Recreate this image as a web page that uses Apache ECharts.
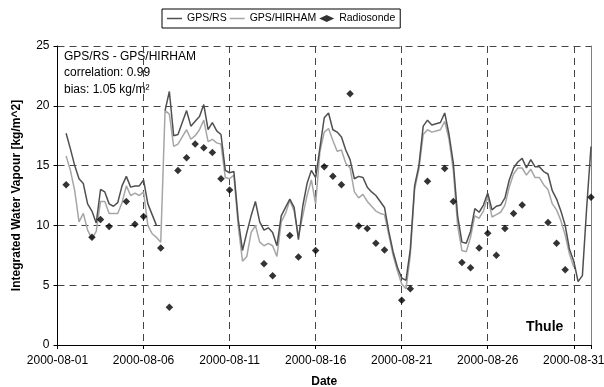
<!DOCTYPE html>
<html><head><meta charset="utf-8">
<script src="https://cdn.jsdelivr.net/npm/echarts@6/dist/echarts.min.js"></script>
<style>html,body{margin:0;padding:0;background:#fff}#c{width:604px;height:387px}</style>
</head><body><div id="c"></div>
<script>
// time grid of the GPS series: days after 2000-08-01 00:00
const startDay = 0.5, stepDay = 0.25;
const gpsRS = [
  17.7,16.4, 15.0,13.9,13.5,11.8, 11.2,10.2,13.0,12.8, 11.8,11.6,11.9,13.3,
  14.1,13.2,13.3,13.3, 13.8,11.8,10.9,10.0, null,19.6,21.2,17.5, 17.6,18.6,19.6,18.3,
  18.7,19.1,20.1,18.0, 18.6,17.9,17.6,14.6, 14.4,14.5,10.5,7.9, 9.4,10.8,12.0,10.3,
  9.6,9.8,9.4,8.3, 10.8,11.5,12.2,11.5, 8.8,11.6,13.5,14.6, 14.0,16.5,19.0,19.4,
  18.0,17.8,17.4,16.3, 15.5,13.9,14.1,14.0, 13.2,12.8,12.5,12.0, 11.5,9.5,7.8,6.5,
  5.6,5.4,8.0,13.3, 15.0,18.3,18.8,18.4, 18.5,18.6,19.4,17.6, 15.2,10.8,8.6,8.5,
  9.5,11.4,11.1,11.7, 12.7,11.3,11.6,11.7, 12.3,13.8,14.8,15.3, 15.6,14.8,15.5,14.9,
  14.9,14.5,14.3,12.9, 12.2,11.2,10.0,8.0, 7.0,5.3,5.8,11.5, 16.6
];
const gpsHIRHAM = [
  15.8,14.6, 12.9,10.3,11.0,9.6, 8.9,9.5,12.0,12.0, 11.0,11.0,11.0,11.9,
  13.3,12.5,12.7,12.5, 12.8,10.0,9.3,9.0, 8.6,19.6,19.3,16.6, 16.8,17.4,18.0,17.2,
  17.5,18.0,18.8,17.0, 17.2,16.9,16.8,14.0, 13.9,14.2,10.0,7.0, 7.4,9.4,10.0,8.6,
  8.3,8.5,8.3,7.4, 10.3,11.0,12.1,11.2, 9.1,10.8,12.5,13.8, 11.8,16.2,17.8,18.1,
  17.1,16.2,16.3,15.2, 14.8,12.8,12.3,12.6, 12.0,11.6,11.2,11.0, 10.9,9.2,7.5,6.2,
  5.1,4.7,7.5,13.0, 14.7,17.6,18.0,17.8, 17.9,18.0,18.7,17.2, 14.6,10.0,7.9,7.8,
  9.0,10.8,10.6,11.2, 12.4,10.7,10.9,11.1, 11.7,13.2,14.3,14.8, 14.8,14.2,14.7,14.0,
  14.0,13.4,13.0,11.8, 11.3,10.4,9.2,7.6, 6.5
];
const rsDays = [0.5,2.0,2.5,3.0,4.0,4.5,5.0,6.0,6.5,7.0,7.5,8.0,8.5,9.0,9.5,10.0,
  12.0,12.5,13.5,14.0,15.0,15.5,16.0,16.5,17.0,17.5,18.0,18.5,19.0,20.0,20.5,
  21.5,22.5,23.0,23.5,24.0,24.5,25.0,25.5,26.0,26.5,27.0,28.5,29.0,29.5,31.0];
const rsValues = [13.4,9.0,10.5,9.9,12.0,10.1,10.75,8.1,3.15,14.6,15.65,16.8,16.5,16.1,13.9,12.95,
  6.8,5.8,9.15,7.35,7.9,14.9,14.1,13.4,21.0,9.95,9.75,8.5,7.95,3.75,4.7,
  13.7,14.75,12.0,6.9,6.45,8.1,9.35,7.5,9.75,11.0,11.7,10.25,8.5,6.3,12.35];
const xTickLabels = ['2000-08-01','2000-08-06','2000-08-11','2000-08-16','2000-08-21','2000-08-26','2000-08-31'];
const seriesNames = ['GPS/RS','GPS/HIRHAM','Radiosonde'];

const FONT = '"Liberation Sans", Arial, sans-serif';
const LINE_ICON = 'path://M0,0H20V2H0Z';
const toPairs = arr => arr.map((v, i) => [startDay + i * stepDay, v]);
const chart = echarts.init(document.getElementById('c'), null, {renderer: 'canvas'});
const dash = {color: '#444', width: 1, type: [7, 5]};
chart.setOption({
  animation: false,
  textStyle: {fontFamily: FONT, color: '#000'},
  grid: {left: 57.5, right: 13, top: 46, bottom: 42, containLabel: false, outerBoundsMode: 'none'},
  legend: {
    data: [{name: seriesNames[0], icon: LINE_ICON}, {name: seriesNames[1], icon: LINE_ICON},
           {name: seriesNames[2], icon: 'diamond'}],
    left: 162, top: 9, itemWidth: 15, itemHeight: 7, itemGap: 3,
    padding: [4, 5, 4, 5], borderColor: '#000', borderWidth: 1,
    textStyle: {fontSize: 10.5, fontFamily: FONT, color: '#000'}
  },
  xAxis: {
    type: 'value', min: 0, max: 31, interval: 5,
    name: 'Date', nameLocation: 'middle', nameGap: 31,
    nameTextStyle: {fontWeight: 'bold', fontSize: 12, fontFamily: FONT, color: '#000'},
    axisLine: {show: true, lineStyle: {color: '#000', width: 1}},
    axisTick: {show: true, length: 4, lineStyle: {color: '#000'}},
    axisLabel: {fontSize: 12, color: '#000', margin: 10, fontFamily: FONT,
      formatter: v => (v % 5 === 0 && v / 5 < xTickLabels.length) ? xTickLabels[v / 5] : ''},
    splitLine: {show: true, lineStyle: dash}
  },
  yAxis: [{
    type: 'value', min: 0, max: 25, interval: 5,
    name: 'Integrated Water Vapour [kg/m^2]', nameLocation: 'middle', nameGap: 35,
    nameTextStyle: {fontWeight: 'bold', fontSize: 12, fontFamily: FONT, color: '#000'},
    axisLine: {show: true, lineStyle: {color: '#000', width: 1}},
    axisTick: {show: true, length: 4, lineStyle: {color: '#000'}},
    axisLabel: {fontSize: 12, color: '#000', margin: 8, fontFamily: FONT},
    splitLine: {show: true, lineStyle: dash}
  }, {
    type: 'value', min: 0, max: 25, interval: 5, position: 'right',
    axisLine: {show: true, lineStyle: {color: '#808080', width: 1}},
    axisTick: {show: false}, axisLabel: {show: false}, splitLine: {show: false}
  }],
  graphic: [
    {type: 'text', left: 64, top: 51, style: {text: 'GPS/RS - GPS/HIRHAM', font: '12px ' + FONT, fill: '#000'}},
    {type: 'text', left: 64, top: 67, style: {text: 'correlation: 0.99', font: '12px ' + FONT, fill: '#000'}},
    {type: 'text', left: 64, top: 84, style: {text: 'bias: 1.05 kg/m\u00B2', font: '12px ' + FONT, fill: '#000'}},
    {type: 'text', left: 526, top: 320, style: {text: 'Thule', font: 'bold 14px ' + FONT, fill: '#000'}}
  ],
  series: [
    {name: seriesNames[0], type: 'line', data: toPairs(gpsRS), symbol: 'none', connectNulls: false,
      lineStyle: {color: '#505050', width: 1.5}, itemStyle: {color: '#505050'}, z: 3},
    {name: seriesNames[1], type: 'line', data: toPairs(gpsHIRHAM), symbol: 'none', connectNulls: false,
      lineStyle: {color: '#a6a6a6', width: 1.5}, itemStyle: {color: '#a6a6a6'}, z: 2},
    {name: seriesNames[2], type: 'scatter', data: rsDays.map((d, i) => [d, rsValues[i]]),
      symbol: 'diamond', symbolSize: 7.5, itemStyle: {color: '#000'}, z: 4}
  ]
});
</script></body></html>
